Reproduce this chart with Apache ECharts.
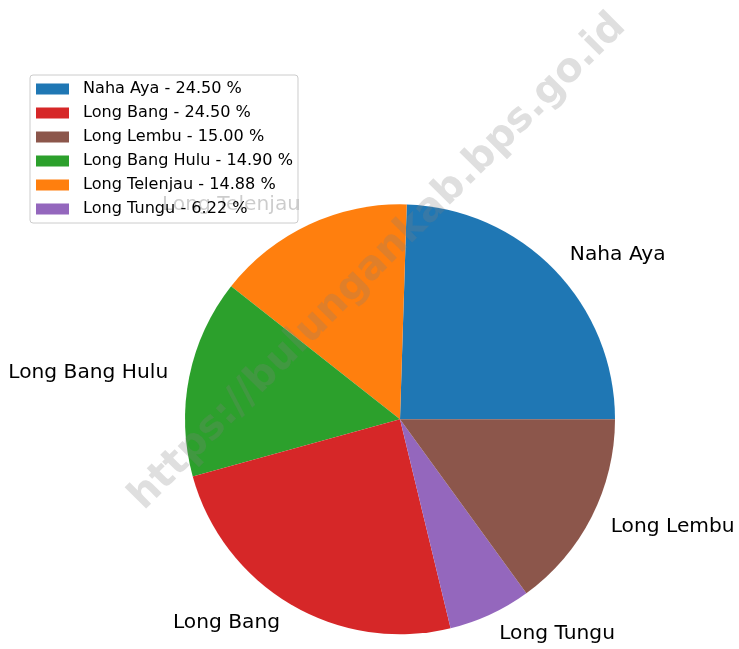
<!DOCTYPE html>
<html>
<head>
<meta charset="utf-8">
<script src="https://cdn.jsdelivr.net/npm/echarts@6/dist/echarts.min.js"></script>
<style>
html,body{margin:0;padding:0;background:#fff;}
#chart{width:739px;height:649px;}
</style>
</head>
<body>
<div id="chart"></div>
<script>
// Slice order (counter-clockwise from 3 o'clock)
const categories = ['Naha Aya', 'Long Telenjau', 'Long Bang Hulu', 'Long Bang', 'Long Tungu', 'Long Lembu'];
const values = [24.50, 14.88, 14.90, 24.50, 6.22, 15.00];
const colors = ['#1f77b4', '#ff7f0e', '#2ca02c', '#d62728', '#9467bd', '#8c564b'];
// Legend order (sorted descending)
const legendOrder = ['Naha Aya', 'Long Bang', 'Long Lembu', 'Long Bang Hulu', 'Long Telenjau', 'Long Tungu'];
const watermark = 'https://bulungankab.bps.go.id';

const total = values.reduce((a, b) => a + b, 0);
const pct = {};
categories.forEach((c, i) => { pct[c] = (values[i] / total * 100).toFixed(2); });

const chart = echarts.init(document.getElementById('chart'));
const R = 215;
chart.setOption({
  animation: false,
  backgroundColor: '#fff',
  legend: {
    data: legendOrder,
    orient: 'vertical',
    left: 30,
    top: 75,
    icon: 'rect',
    itemWidth: 33,
    itemHeight: 11,
    itemGap: 8,
    padding: [6, 5, 6, 6],
    backgroundColor: 'rgba(255,255,255,0.8)',
    borderColor: '#cccccc',
    borderWidth: 1,
    borderRadius: 3,
    textStyle: {
      fontFamily: 'DejaVu Sans',
      fontSize: 16.1,
      lineHeight: 16,
      color: '#000',
      padding: [0, 0, 0, 9]
    },
    formatter: name => name + ' - ' + pct[name] + ' %',
    z: 10
  },
  graphic: [{
    type: 'text',
    x: 378,
    y: 262,
    rotation: Math.PI / 4,
    z: 100,
    silent: true,
    style: {
      text: watermark,
      fontFamily: 'DejaVu Sans',
      fontWeight: 'bold',
      fontSize: 40,
      fill: 'rgba(128,128,128,0.25)',
      align: 'center',
      verticalAlign: 'middle'
    }
  }],
  series: [{
    type: 'pie',
    center: [400, 419.3],
    radius: [0, R],
    startAngle: 0,
    clockwise: false,
    avoidLabelOverlap: false,
    silent: true,
    itemStyle: { borderWidth: 0 },
    label: {
      show: true,
      position: 'outside',
      formatter: '{b}',
      fontFamily: 'DejaVu Sans',
      fontSize: 20.2,
      color: '#000',
      distanceToLabelLine: 0
    },
    labelLine: { show: false, length: R * 0.1, length2: 0 },
    data: categories.map((c, i) => ({ name: c, value: values[i], itemStyle: { color: colors[i] } }))
  }]
});
</script>
</body>
</html>
